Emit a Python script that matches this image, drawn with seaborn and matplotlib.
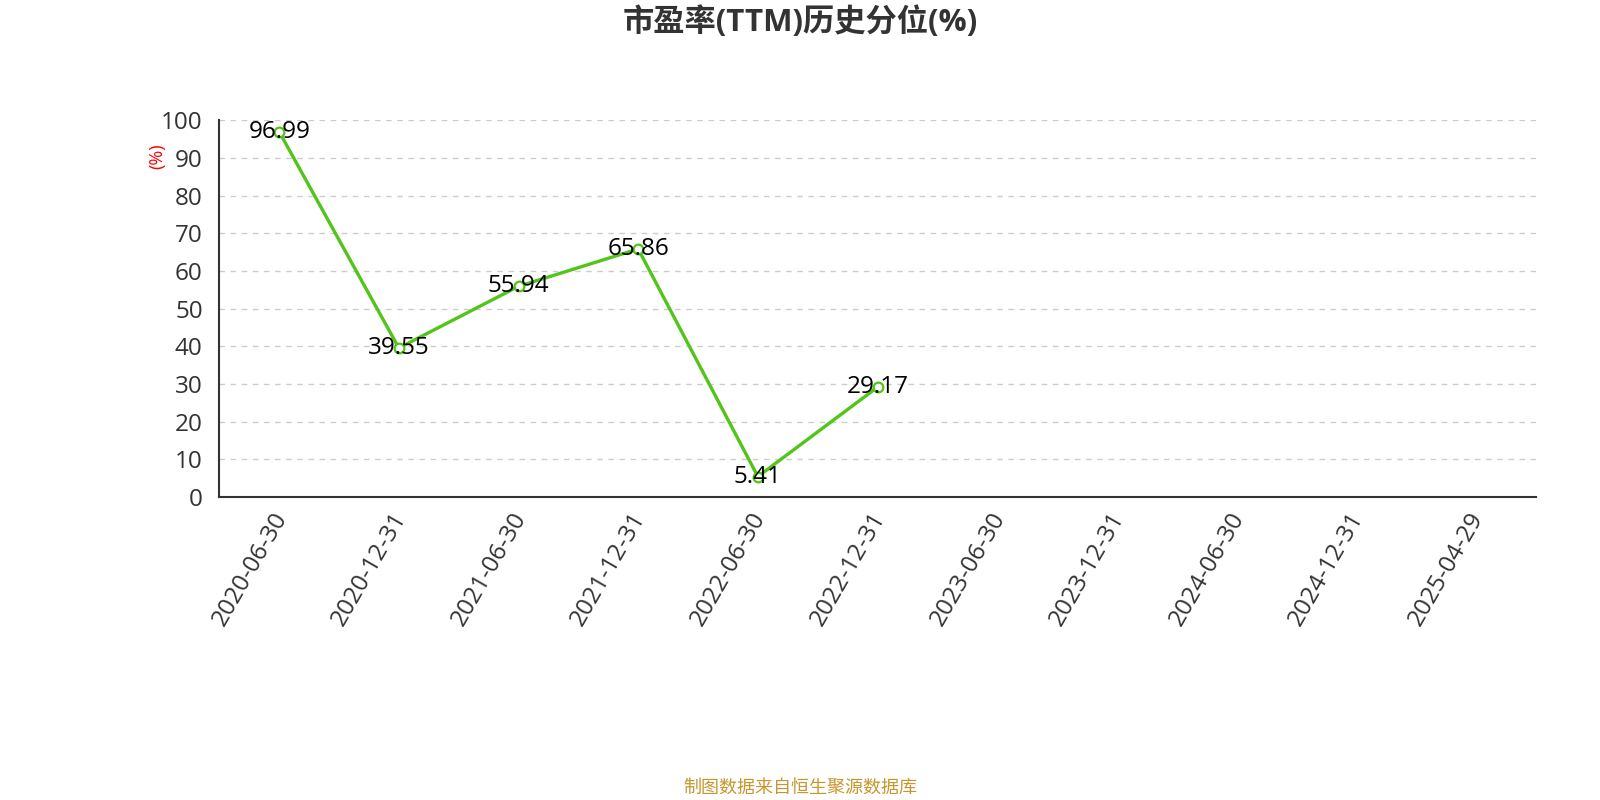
import numpy as np
import pandas as pd
import matplotlib
matplotlib.use("Agg")
import matplotlib.pyplot as plt
import matplotlib.transforms as mtransforms
import seaborn as sns

# data
dates = ["2020-06-30", "2020-12-31", "2021-06-30", "2021-12-31", "2022-06-30",
         "2022-12-31", "2023-06-30", "2023-12-31", "2024-06-30", "2024-12-31",
         "2025-04-29"]
value_dates = ["2020-06-30", "2020-12-31", "2021-06-30", "2021-12-31",
               "2022-06-30", "2022-12-31"]
values = [96.99, 39.55, 55.94, 65.86, 5.41, 29.17]
y_ticks = list(range(0, 101, 10))

sns.set_style("white")
plt.rcParams["font.family"] = ["Open Sans", "Noto Sans CJK SC", "DejaVu Sans"]

df = pd.DataFrame({"date": value_dates, "pct": values})
df["pos"] = [dates.index(d) for d in df["date"]]

fig = plt.figure(figsize=(16, 8), dpi=100)
ax = fig.add_axes([0.1371, 0.3788, 0.8227, 0.4707])

green = "#52c41a"
sns.lineplot(data=df, x="pos", y="pct", ax=ax, color=green, linewidth=2.4,
             marker="o", markersize=7, markerfacecolor="white",
             markeredgecolor=green, markeredgewidth=1.6, zorder=3)

for p, v in zip(df["pos"], df["pct"]):
    ax.text(p, v, f"{v:.2f}", ha="center", va="center", fontsize=17.5,
            color="black", zorder=4)

ax.set_xlim(-0.5, len(dates) - 0.5)
ax.set_ylim(0, 100)
ax.set_yticks(y_ticks)
ax.set_xticks(range(len(dates)))
ax.set_xticklabels(dates, rotation=60, ha="right", rotation_mode="anchor",
                   fontsize=17.5, color="#333333")
ax.set_xticks(np.arange(-0.5, len(dates), 1.0), minor=True)
ax.tick_params(axis="x", which="major", length=0, pad=8)
ax.tick_params(axis="x", which="minor", length=6, width=1.5, color="#333333")
ax.tick_params(axis="y", length=6, width=1.5, color="#333333", labelsize=17.5,
               labelcolor="#333333", pad=6)

# nudge the rotated date labels a little to the left
shift = mtransforms.ScaledTranslation(-8 / 100, 0, fig.dpi_scale_trans)
for lab in ax.get_xticklabels():
    lab.set_transform(lab.get_transform() + shift)

ax.grid(axis="y", linestyle=(0, (4, 4)), color="#cccccc", linewidth=1)
ax.grid(axis="x", visible=False)
for s in ["top", "right"]:
    ax.spines[s].set_visible(False)
for s in ["left", "bottom"]:
    ax.spines[s].set_color("#333333")
    ax.spines[s].set_linewidth(1.5)

ax.set_xlabel("")
ax.set_ylabel("(%)", color="red", fontsize=13)
ax.yaxis.set_label_coords(-0.040, 0.905)

fig.text(0.5, 0.972, "市盈率(TTM)历史分位(%)", ha="center", va="center",
         fontsize=22.5, fontweight="bold", color="#333333")
fig.text(0.5, 0.016, "制图数据来自恒生聚源数据库", ha="center", va="center",
         fontsize=13, color="#c8962d")

fig.savefig("out.png", dpi=100)
